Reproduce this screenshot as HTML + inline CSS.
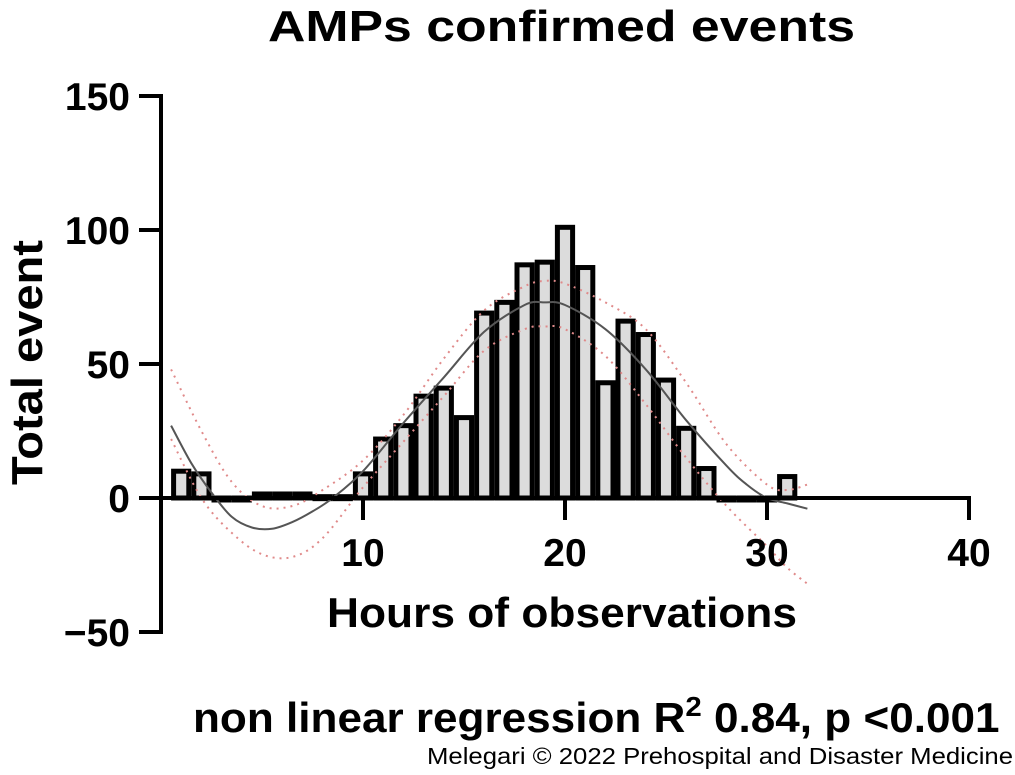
<!DOCTYPE html>
<html><head><meta charset="utf-8"><style>
body{margin:0;background:#fff;}
svg text{font-family:"Liberation Sans",Arial,sans-serif;fill:#000;}
</style></head><body>
<svg id="chart" width="1015" height="770" viewBox="0 0 1015 770" xmlns="http://www.w3.org/2000/svg">
<text x="268" y="41" font-size="44" font-weight="bold" textLength="587" lengthAdjust="spacingAndGlyphs">AMPs confirmed events</text>
<text transform="translate(42,485) rotate(-90)" font-size="44" font-weight="bold" textLength="245" lengthAdjust="spacingAndGlyphs">Total event</text>
<text x="327" y="627" font-size="42" font-weight="bold" textLength="470" lengthAdjust="spacingAndGlyphs">Hours of observations</text>
<text x="193" y="732" font-size="42" font-weight="bold" transform="translate(193,0) scale(1.05,1) translate(-193,0)">non linear regression R<tspan dy="-16" font-size="28">2</tspan><tspan dy="16"> 0.84, p &lt;0.001</tspan></text>
<text x="427" y="764" font-size="23" textLength="586" lengthAdjust="spacingAndGlyphs">Melegari © 2022 Prehospital and Disaster Medicine</text>
<g id="plot"></g>
</svg>
<script>
const hours = [1,2,3,4,5,6,7,8,9,10,11,12,13,14,15,16,17,18,19,20,21,22,23,24,25,26,27,28,29,30,31];
const counts = [10,9,0,0,1.5,1.5,1.5,0.5,0.5,9,22,27,38,41,30,69,73,87,88,101,86,43,66,61,44,26,11,0,0,0,8];
const fitX = [0.5,1.5,2.5,3.5,4.5,5.5,6.5,7.5,8.5,10,12,14,16,18,19,20,22,24,26,28,29,30,31,32];
const fitY = [27,13,2,-7,-11,-11.5,-9,-5,0,10,28,45,62,72,73,72,63,48,29,12,5,0,-2,-4];
const bandX = [0.5,2,3.5,5,6.5,8,10,12,14,16,18,19,20,22,24,26,28,30,31,32];
const upperY = [48,25,6,-3,-3,3,14,31,52,70,79,81,80,73,63,43,20,5,3,5];
const lowerY = [22,0,-13,-21,-22,-15,4,21,38,55,63,64,63,53,35,15,-3,-18,-26,-32];
const yTicks = [-50,0,50,100,150];
const xTicks = [10,20,30,40];

const NS='http://www.w3.org/2000/svg';
const g=document.getElementById('plot');
const X=v=>161+v*20.2;
const Y=v=>498-v*2.68;
function mk(t,a){const e=document.createElementNS(NS,t);for(const k in a)e.setAttribute(k,a[k]);g.appendChild(e);return e;}

hours.forEach((h,i)=>{
  const v=counts[i];
  const top=Math.min(Y(v),Y(0)), hgt=Math.max(Math.abs(Y(v)-Y(0)),2);
  const r=mk('rect',{x:X(h-0.5)+2.5,y:top,width:15.2,height:hgt,fill:'#dcdcdc',stroke:'#000','stroke-width':5});
  
  
});

function path(xs,ys){
  const p=xs.map((x,i)=>[X(x),Y(ys[i])]);
  let d='M'+p[0][0].toFixed(1)+' '+p[0][1].toFixed(1);
  for(let i=0;i<p.length-1;i++){
    const p0=p[Math.max(i-1,0)],p1=p[i],p2=p[i+1],p3=p[Math.min(i+2,p.length-1)];
    const c1=[p1[0]+(p2[0]-p0[0])/6,p1[1]+(p2[1]-p0[1])/6];
    const c2=[p2[0]-(p3[0]-p1[0])/6,p2[1]-(p3[1]-p1[1])/6];
    d+=' C'+c1[0].toFixed(1)+' '+c1[1].toFixed(1)+' '+c2[0].toFixed(1)+' '+c2[1].toFixed(1)+' '+p2[0].toFixed(1)+' '+p2[1].toFixed(1);
  }
  return d;
}
const up=mk('path',{d:path(bandX,upperY),fill:'none',stroke:'#e08a8a','stroke-width':2,'stroke-dasharray':'2 5'});


const lo=mk('path',{d:path(bandX,lowerY),fill:'none',stroke:'#e08a8a','stroke-width':2,'stroke-dasharray':'2 5'});


const fit=mk('path',{d:path(fitX,fitY),fill:'none',stroke:'#555','stroke-width':2});



const ya=mk('line',{x1:161,y1:Y(150)-2,x2:161,y2:Y(-50)+2,stroke:'#000','stroke-width':4});


const xa=mk('line',{x1:161,y1:Y(0),x2:X(40)+2,y2:Y(0),stroke:'#000','stroke-width':4});


yTicks.forEach(t=>{
  const l=mk('line',{x1:139,y1:Y(t),x2:161,y2:Y(t),stroke:'#000','stroke-width':4});
  
  
  const tx=mk('text',{x:130,y:Y(t)+14,'text-anchor':'end','font-size':39,'font-weight':'bold'});
  tx.textContent=t<0?'\u2212'+(-t):String(t);
  
  
});
xTicks.forEach(t=>{
  const l=mk('line',{x1:X(t),y1:Y(0),x2:X(t),y2:Y(0)+22,stroke:'#000','stroke-width':4});
  
  
  const tx=mk('text',{x:X(t),y:Y(0)+68,'text-anchor':'middle','font-size':39,'font-weight':'bold'});
  tx.textContent=String(t);
  
  
});
</script>
</body></html>
